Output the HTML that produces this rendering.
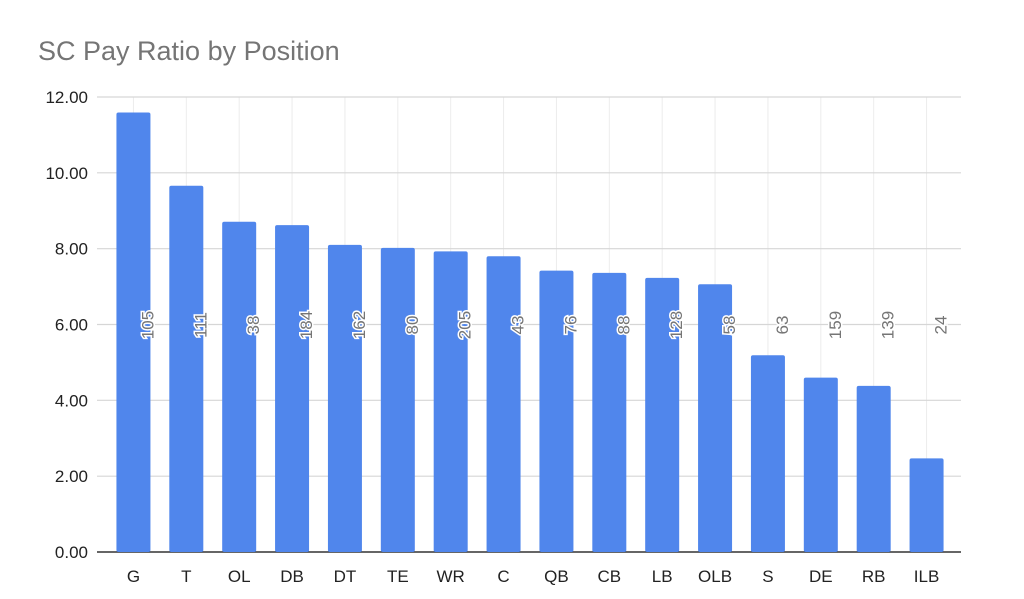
<!DOCTYPE html>
<html><head><meta charset="utf-8"><style>
body{margin:0;background:#fff;}
svg{display:block;font-family:"Liberation Sans",Arial,sans-serif;}
</style></head><body>
<svg id="chart" width="1024" height="599" viewBox="0 0 1024 599">
<text x="38" y="60" font-size="27" fill="#757575">SC Pay Ratio by Position</text>
<g id="grid"></g><g id="bars"></g><g id="labels"></g>
</svg>
<script>
const categories=["G","T","OL","DB","DT","TE","WR","C","QB","CB","LB","OLB","S","DE","RB","ILB"];
const ratios=[11.59,9.66,8.71,8.62,8.10,8.02,7.93,7.80,7.42,7.36,7.23,7.06,5.19,4.60,4.38,2.47];
const counts=[105,111,38,184,162,80,205,43,76,88,128,58,63,159,139,24];
const yTicks=[0,2,4,6,8,10,12];
const NS="http://www.w3.org/2000/svg";
const X0=107,X1=953,Y0=552,YTOP=97,YMAX=12;
const band=(X1-X0)/categories.length;
const x=i=>X0+band*(i+0.5);
const y=v=>Y0-(v/YMAX)*(Y0-YTOP);
function mk(tag,attrs,parent){const e=document.createElementNS(NS,tag);for(const k in attrs)e.setAttribute(k,attrs[k]);parent.appendChild(e);return e;}
const grid=document.getElementById('grid'),bars=document.getElementById('bars'),labels=document.getElementById('labels');
categories.forEach((c,i)=>{const l=mk('line',{x1:x(i),x2:x(i),y1:YTOP,y2:Y0,stroke:'#ececec','stroke-width':1},grid);

});
yTicks.forEach(t=>{
 const l=mk('line',{x1:97,x2:961,y1:y(t),y2:y(t),stroke:t===0?'#333':'#d6d6d6','stroke-width':t===0?1.5:1.2},grid);
 
 
 const tx=mk('text',{x:88,y:y(t)+6,'text-anchor':'end','font-size':17,fill:'#222'},grid);
 tx.textContent=t.toFixed(2);
 
 
});
categories.forEach((c,i)=>{
 const r=mk('rect',{x:x(i)-17,y:y(ratios[i]),width:34,height:Y0-y(ratios[i]),rx:2,fill:'#5086ec'},bars);
 
 
 const xl=mk('text',{x:x(i),y:582,'text-anchor':'middle','font-size':17,fill:'#222'},labels);
 xl.textContent=c;
 
 
 const v=mk('text',{x:0,y:0,transform:`translate(${x(i)+20},325) rotate(-90)`,'text-anchor':'middle','font-size':17,fill:'#757575',stroke:'#fff','stroke-width':3,'paint-order':'stroke'},labels);
 v.textContent=counts[i];
 
 
});
</script>
</body></html>
